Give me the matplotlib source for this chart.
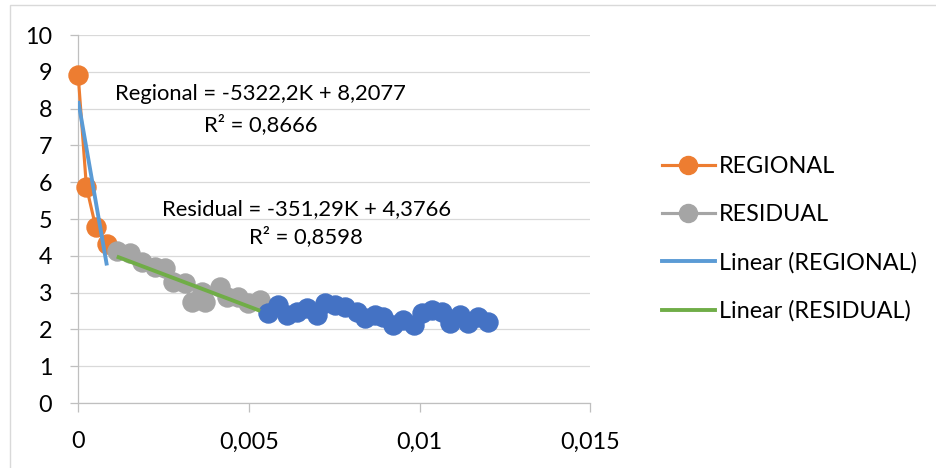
import matplotlib
matplotlib.use("Agg")
import matplotlib.pyplot as plt
from matplotlib.lines import Line2D
from matplotlib.patches import Rectangle
from matplotlib.ticker import FuncFormatter, MultipleLocator

# Regional part of the spectrum (K vs ln E)
regional_k = [0.0, 0.00024, 0.00051, 0.00084]
regional_v = [8.90, 5.88, 4.79, 4.32]

# Residual part
residual_k = [0.00113, 0.00152, 0.00186, 0.00225, 0.00254, 0.00279, 0.00313, 0.00332,
              0.00362, 0.00371, 0.00415, 0.00435, 0.00469, 0.00498, 0.00533]
residual_v = [4.14, 4.07, 3.84, 3.70, 3.66, 3.30, 3.25, 2.75,
              3.02, 2.75, 3.16, 2.89, 2.89, 2.71, 2.80]

# Noise tail (not in legend)
noise_k = [0.00557, 0.00586, 0.00611, 0.00640, 0.00669, 0.00699, 0.00723, 0.00752,
           0.00781, 0.00816, 0.00840, 0.00869, 0.00894, 0.00923, 0.00952, 0.00982,
           0.01006, 0.01035, 0.01065, 0.01089, 0.01118, 0.01143, 0.01172, 0.01201]
noise_v = [2.44, 2.66, 2.39, 2.48, 2.57, 2.39, 2.71, 2.66,
           2.62, 2.48, 2.30, 2.39, 2.35, 2.12, 2.26, 2.12,
           2.44, 2.53, 2.48, 2.17, 2.39, 2.17, 2.35, 2.21]

# linear trend fits: slope, intercept, R^2
regional_fit = (-5322.2, 8.2077, 0.8666)
residual_fit = (-351.29, 4.3766, 0.8598)

ORANGE = "#ED7D31"
GRAY = "#A5A5A5"
BLUE = "#4472C4"
TREND_BLUE = "#5B9BD5"
TREND_GREEN = "#70AD47"
FONT = "Lato"
FS = 16.8
FS_EQ = 15.8


def comma(v):
    return f"{v:g}".replace(".", ",")


def trend_label(name, fit):
    slope, icpt, r2 = fit
    sign = "+" if icpt >= 0 else "-"
    return f"{name} = {comma(slope)}K {sign} {comma(abs(icpt))}\nR² = {comma(r2)}"


plt.rcParams["font.family"] = [FONT, "DejaVu Sans"]

fig = plt.figure(figsize=(9.36, 4.68), dpi=100)
fig.add_artist(Rectangle((10 / 936, -0.1), 1.2, 1 - 5 / 468 + 0.1, transform=fig.transFigure,
                         fill=False, edgecolor="#D9D9D9", linewidth=1.0))

ax = fig.add_axes([78.2 / 936, 1 - 403 / 468, (590.4 - 78.2) / 936, (403 - 35) / 468])
ax.set_xlim(0, 0.015)
ax.set_ylim(0, 10)
ax.xaxis.set_major_locator(MultipleLocator(0.005))
ax.yaxis.set_major_locator(MultipleLocator(1))
ax.xaxis.set_major_formatter(FuncFormatter(lambda v, p: comma(round(v, 6))))
ax.yaxis.set_major_formatter(FuncFormatter(lambda v, p: f"{v:g}"))

for s in ("top", "right"):
    ax.spines[s].set_visible(False)
for s in ("left", "bottom"):
    ax.spines[s].set_color("#BFBFBF")
    ax.spines[s].set_linewidth(0.9)
ax.grid(axis="y", color="#D9D9D9", linewidth=0.9)
ax.set_axisbelow(True)
ax.tick_params(axis="both", direction="out", color="#BFBFBF", width=0.9,
               labelsize=FS, labelcolor="black")
ax.tick_params(axis="x", length=6.5, pad=14)
ax.tick_params(axis="y", length=6.1, pad=12.5)

mk = dict(marker="o", markersize=13.7, linewidth=2.25, clip_on=False)
ax.plot(regional_k, regional_v, color=ORANGE, markeredgecolor=ORANGE, zorder=3, **mk)
ax.plot(residual_k, residual_v, color=GRAY, markeredgecolor=GRAY, zorder=4, **mk)
ax.plot(noise_k, noise_v, color=BLUE, markeredgecolor=BLUE, zorder=5, **mk)

# trend lines over each fitted range
for ks, fit, col in ((regional_k, regional_fit, TREND_BLUE), (residual_k, residual_fit, TREND_GREEN)):
    x0, x1 = min(ks), max(ks)
    ax.plot([x0, x1], [fit[0] * x0 + fit[1], fit[0] * x1 + fit[1]], color=col,
            linewidth=2.8, solid_capstyle="butt", zorder=6)

ax.text(0.00535, 7.97, trend_label("Regional", regional_fit), ha="center", va="center",
        multialignment="center", fontsize=FS_EQ, linespacing=1.6, zorder=7)
ax.text(0.00668, 4.90, trend_label("Residual", residual_fit), ha="center", va="center",
        multialignment="center", fontsize=FS_EQ, linespacing=1.42, zorder=7)

handles = [
    Line2D([], [], color=ORANGE, marker="o", markersize=13, linewidth=2.25),
    Line2D([], [], color=GRAY, marker="o", markersize=13, linewidth=2.25),
    Line2D([], [], color=TREND_BLUE, linewidth=2.8),
    Line2D([], [], color=TREND_GREEN, linewidth=2.8),
]
labels = ["REGIONAL", "RESIDUAL", "Linear (REGIONAL)", "Linear (RESIDUAL)"]
fig.legend(handles, labels, loc="center left", bbox_to_anchor=(662 / 936, 1 - 239 / 468),
           frameon=False, fontsize=FS, handlelength=2.25, handletextpad=0.2,
           labelspacing=1.15, borderpad=0, borderaxespad=0)

fig.savefig("out.png", dpi=100)
